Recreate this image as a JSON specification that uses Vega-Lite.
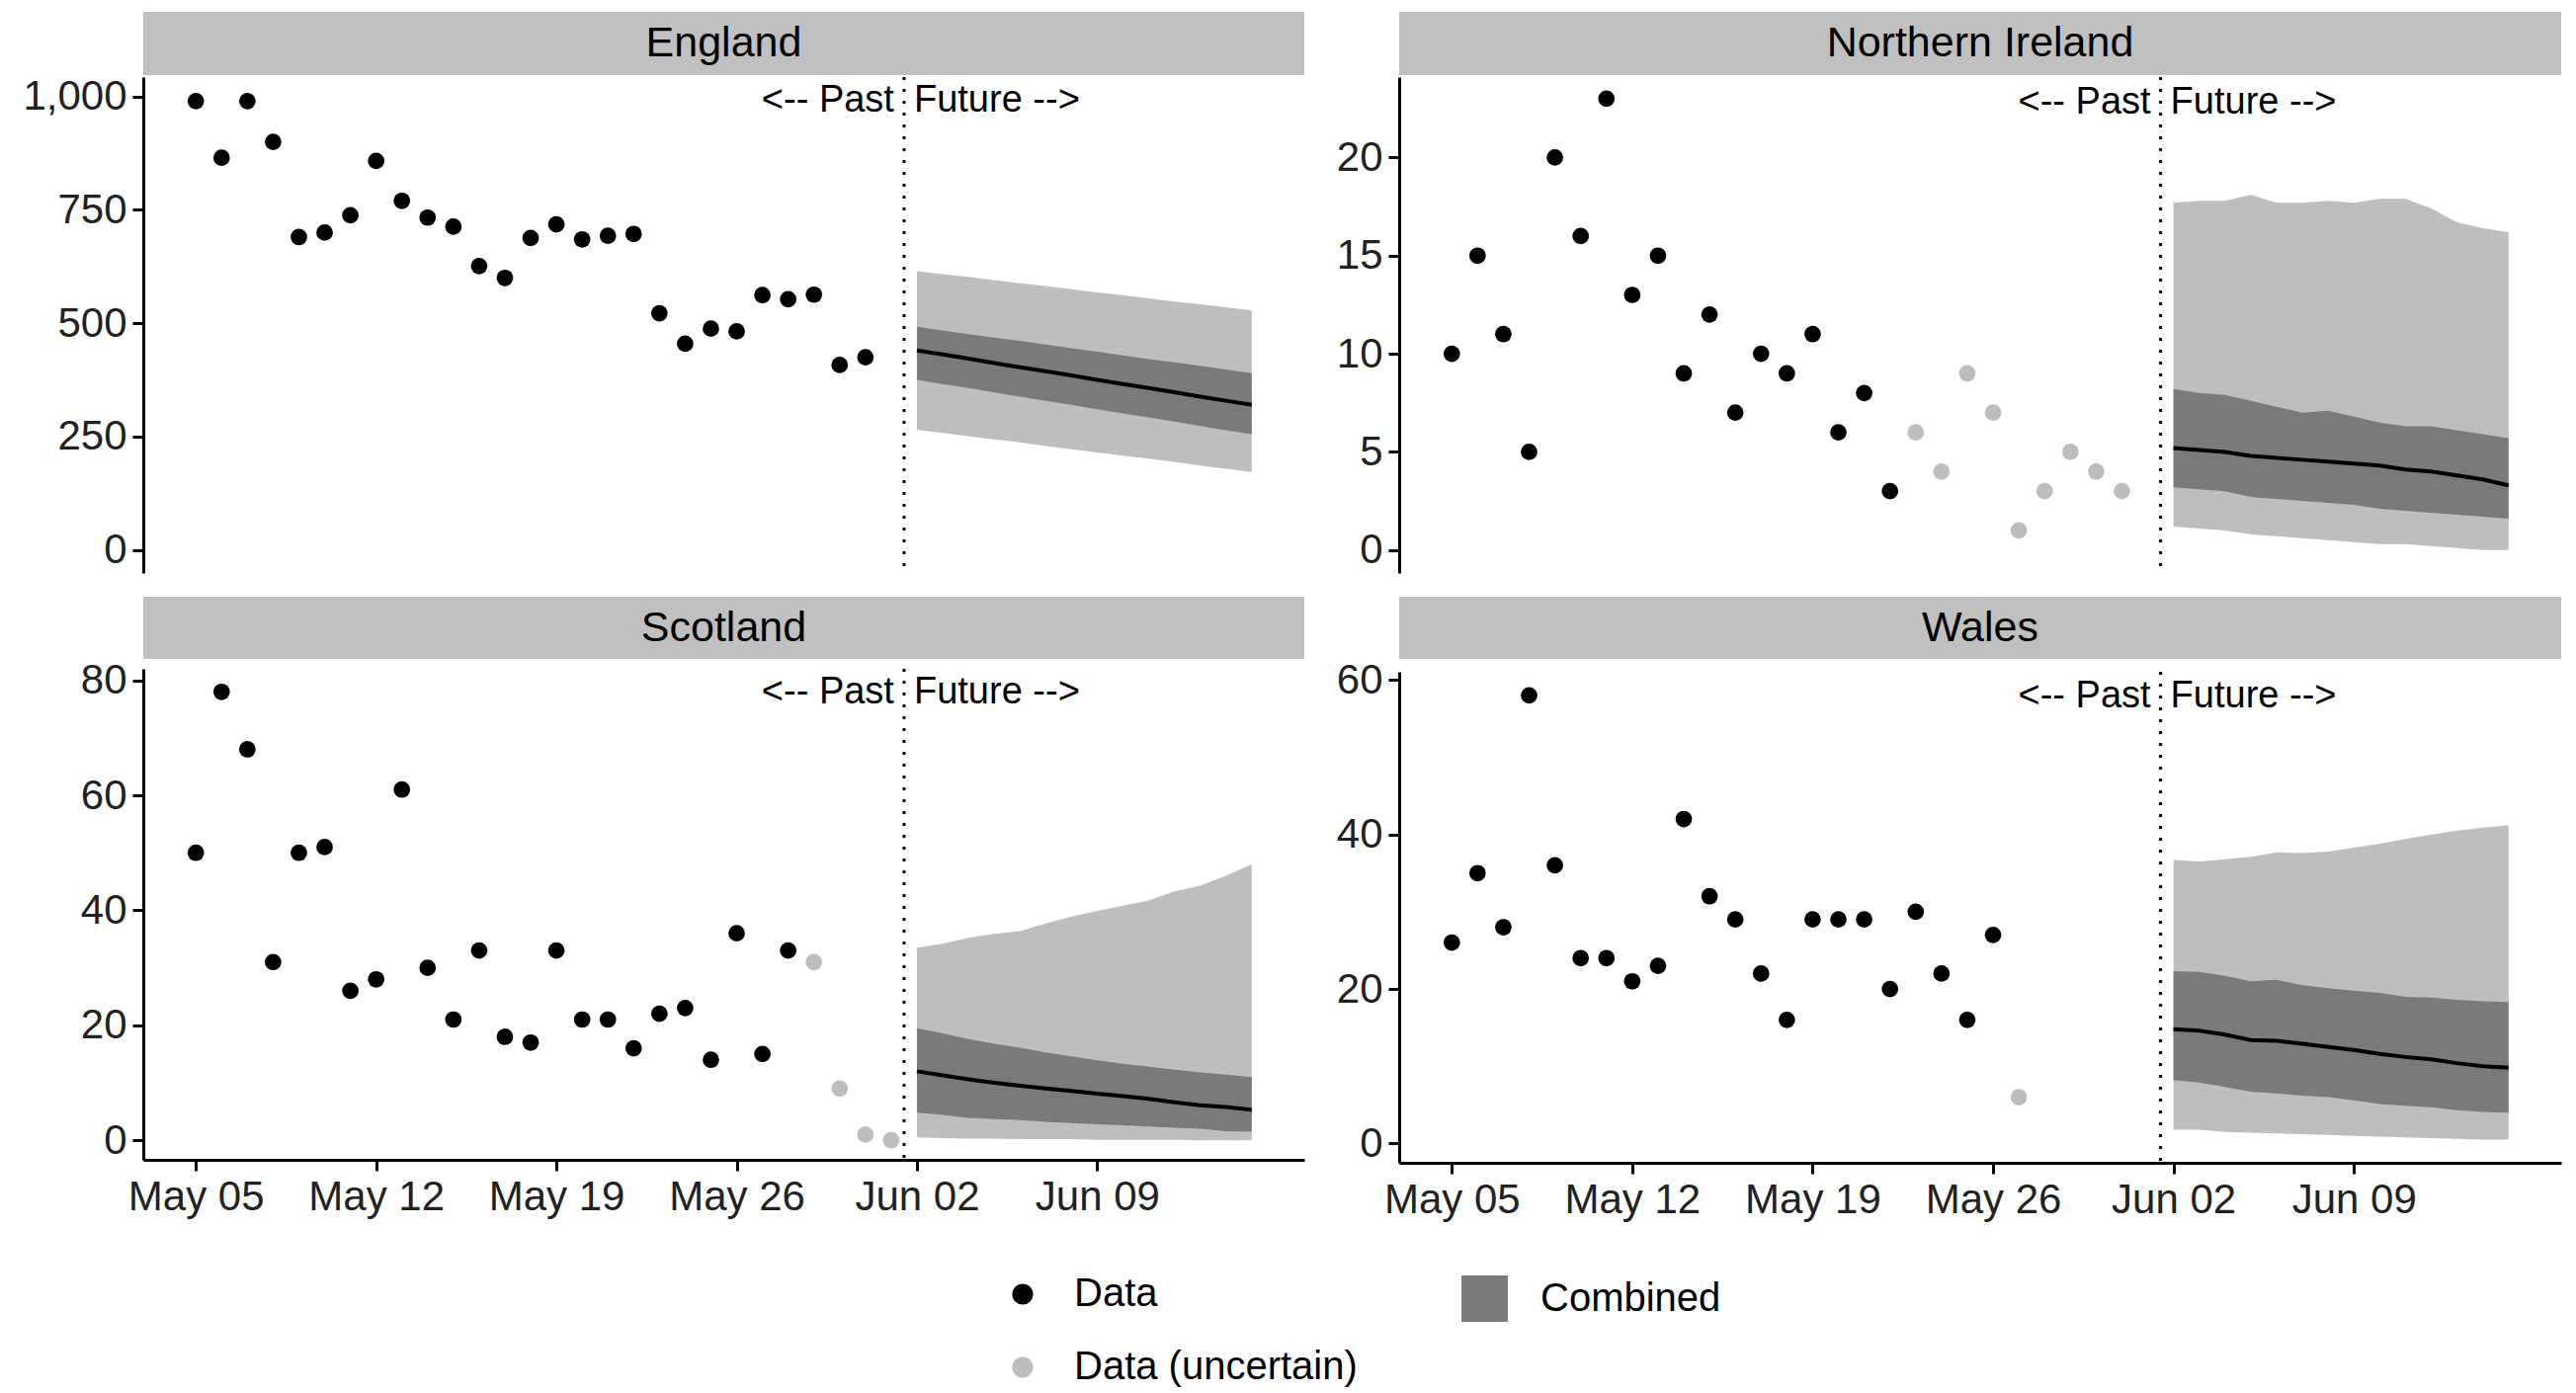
{
  "$schema": "https://vega.github.io/schema/vega-lite/v6.json",
  "padding": {"left": 22, "top": 12, "right": 5, "bottom": 5},
  "background": "white",
  "config": {
    "font": "Liberation Sans",
    "view": {"stroke": null},
    "axis": {"labelFontSize": 42, "labelColor": "#222222", "domainColor": "black", "domainWidth": 3, "tickColor": "black", "tickWidth": 3, "tickSize": 11, "labelPadding": 6, "title": null, "grid": false, "labelFont": "Liberation Sans"},
    "legend": {"orient": "none", "direction": "vertical", "title": null, "labelFontSize": 40, "labelFont": "Liberation Sans", "labelLimit": 0, "symbolSize": 450, "rowPadding": 34, "labelOffset": 32},
    "concat": {"spacing": 22}
  },
  "datasets": {
    "obs": [
      {"region":"England","date":"2020-05-05","value":990,"status":"Data"},
      {"region":"England","date":"2020-05-06","value":865,"status":"Data"},
      {"region":"England","date":"2020-05-07","value":990,"status":"Data"},
      {"region":"England","date":"2020-05-08","value":900,"status":"Data"},
      {"region":"England","date":"2020-05-09","value":690,"status":"Data"},
      {"region":"England","date":"2020-05-10","value":700,"status":"Data"},
      {"region":"England","date":"2020-05-11","value":738,"status":"Data"},
      {"region":"England","date":"2020-05-12","value":858,"status":"Data"},
      {"region":"England","date":"2020-05-13","value":770,"status":"Data"},
      {"region":"England","date":"2020-05-14","value":733,"status":"Data"},
      {"region":"England","date":"2020-05-15","value":713,"status":"Data"},
      {"region":"England","date":"2020-05-16","value":626,"status":"Data"},
      {"region":"England","date":"2020-05-17","value":600,"status":"Data"},
      {"region":"England","date":"2020-05-18","value":688,"status":"Data"},
      {"region":"England","date":"2020-05-19","value":718,"status":"Data"},
      {"region":"England","date":"2020-05-20","value":685,"status":"Data"},
      {"region":"England","date":"2020-05-21","value":693,"status":"Data"},
      {"region":"England","date":"2020-05-22","value":697,"status":"Data"},
      {"region":"England","date":"2020-05-23","value":522,"status":"Data"},
      {"region":"England","date":"2020-05-24","value":455,"status":"Data"},
      {"region":"England","date":"2020-05-25","value":488,"status":"Data"},
      {"region":"England","date":"2020-05-26","value":482,"status":"Data"},
      {"region":"England","date":"2020-05-27","value":562,"status":"Data"},
      {"region":"England","date":"2020-05-28","value":553,"status":"Data"},
      {"region":"England","date":"2020-05-29","value":563,"status":"Data"},
      {"region":"England","date":"2020-05-30","value":408,"status":"Data"},
      {"region":"England","date":"2020-05-31","value":425,"status":"Data"},
      {"region":"Northern Ireland","date":"2020-05-05","value":10,"status":"Data"},
      {"region":"Northern Ireland","date":"2020-05-06","value":15,"status":"Data"},
      {"region":"Northern Ireland","date":"2020-05-07","value":11,"status":"Data"},
      {"region":"Northern Ireland","date":"2020-05-08","value":5,"status":"Data"},
      {"region":"Northern Ireland","date":"2020-05-09","value":20,"status":"Data"},
      {"region":"Northern Ireland","date":"2020-05-10","value":16,"status":"Data"},
      {"region":"Northern Ireland","date":"2020-05-11","value":23,"status":"Data"},
      {"region":"Northern Ireland","date":"2020-05-12","value":13,"status":"Data"},
      {"region":"Northern Ireland","date":"2020-05-13","value":15,"status":"Data"},
      {"region":"Northern Ireland","date":"2020-05-14","value":9,"status":"Data"},
      {"region":"Northern Ireland","date":"2020-05-15","value":12,"status":"Data"},
      {"region":"Northern Ireland","date":"2020-05-16","value":7,"status":"Data"},
      {"region":"Northern Ireland","date":"2020-05-17","value":10,"status":"Data"},
      {"region":"Northern Ireland","date":"2020-05-18","value":9,"status":"Data"},
      {"region":"Northern Ireland","date":"2020-05-19","value":11,"status":"Data"},
      {"region":"Northern Ireland","date":"2020-05-20","value":6,"status":"Data"},
      {"region":"Northern Ireland","date":"2020-05-21","value":8,"status":"Data"},
      {"region":"Northern Ireland","date":"2020-05-22","value":3,"status":"Data"},
      {"region":"Northern Ireland","date":"2020-05-23","value":6,"status":"Data (uncertain)"},
      {"region":"Northern Ireland","date":"2020-05-24","value":4,"status":"Data (uncertain)"},
      {"region":"Northern Ireland","date":"2020-05-25","value":9,"status":"Data (uncertain)"},
      {"region":"Northern Ireland","date":"2020-05-26","value":7,"status":"Data (uncertain)"},
      {"region":"Northern Ireland","date":"2020-05-27","value":1,"status":"Data (uncertain)"},
      {"region":"Northern Ireland","date":"2020-05-28","value":3,"status":"Data (uncertain)"},
      {"region":"Northern Ireland","date":"2020-05-29","value":5,"status":"Data (uncertain)"},
      {"region":"Northern Ireland","date":"2020-05-30","value":4,"status":"Data (uncertain)"},
      {"region":"Northern Ireland","date":"2020-05-31","value":3,"status":"Data (uncertain)"},
      {"region":"Scotland","date":"2020-05-05","value":50,"status":"Data"},
      {"region":"Scotland","date":"2020-05-06","value":78,"status":"Data"},
      {"region":"Scotland","date":"2020-05-07","value":68,"status":"Data"},
      {"region":"Scotland","date":"2020-05-08","value":31,"status":"Data"},
      {"region":"Scotland","date":"2020-05-09","value":50,"status":"Data"},
      {"region":"Scotland","date":"2020-05-10","value":51,"status":"Data"},
      {"region":"Scotland","date":"2020-05-11","value":26,"status":"Data"},
      {"region":"Scotland","date":"2020-05-12","value":28,"status":"Data"},
      {"region":"Scotland","date":"2020-05-13","value":61,"status":"Data"},
      {"region":"Scotland","date":"2020-05-14","value":30,"status":"Data"},
      {"region":"Scotland","date":"2020-05-15","value":21,"status":"Data"},
      {"region":"Scotland","date":"2020-05-16","value":33,"status":"Data"},
      {"region":"Scotland","date":"2020-05-17","value":18,"status":"Data"},
      {"region":"Scotland","date":"2020-05-18","value":17,"status":"Data"},
      {"region":"Scotland","date":"2020-05-19","value":33,"status":"Data"},
      {"region":"Scotland","date":"2020-05-20","value":21,"status":"Data"},
      {"region":"Scotland","date":"2020-05-21","value":21,"status":"Data"},
      {"region":"Scotland","date":"2020-05-22","value":16,"status":"Data"},
      {"region":"Scotland","date":"2020-05-23","value":22,"status":"Data"},
      {"region":"Scotland","date":"2020-05-24","value":23,"status":"Data"},
      {"region":"Scotland","date":"2020-05-25","value":14,"status":"Data"},
      {"region":"Scotland","date":"2020-05-26","value":36,"status":"Data"},
      {"region":"Scotland","date":"2020-05-27","value":15,"status":"Data"},
      {"region":"Scotland","date":"2020-05-28","value":33,"status":"Data"},
      {"region":"Scotland","date":"2020-05-29","value":31,"status":"Data (uncertain)"},
      {"region":"Scotland","date":"2020-05-30","value":9,"status":"Data (uncertain)"},
      {"region":"Scotland","date":"2020-05-31","value":1,"status":"Data (uncertain)"},
      {"region":"Scotland","date":"2020-06-01","value":0,"status":"Data (uncertain)"},
      {"region":"Wales","date":"2020-05-05","value":26,"status":"Data"},
      {"region":"Wales","date":"2020-05-06","value":35,"status":"Data"},
      {"region":"Wales","date":"2020-05-07","value":28,"status":"Data"},
      {"region":"Wales","date":"2020-05-08","value":58,"status":"Data"},
      {"region":"Wales","date":"2020-05-09","value":36,"status":"Data"},
      {"region":"Wales","date":"2020-05-10","value":24,"status":"Data"},
      {"region":"Wales","date":"2020-05-11","value":24,"status":"Data"},
      {"region":"Wales","date":"2020-05-12","value":21,"status":"Data"},
      {"region":"Wales","date":"2020-05-13","value":23,"status":"Data"},
      {"region":"Wales","date":"2020-05-14","value":42,"status":"Data"},
      {"region":"Wales","date":"2020-05-15","value":32,"status":"Data"},
      {"region":"Wales","date":"2020-05-16","value":29,"status":"Data"},
      {"region":"Wales","date":"2020-05-17","value":22,"status":"Data"},
      {"region":"Wales","date":"2020-05-18","value":16,"status":"Data"},
      {"region":"Wales","date":"2020-05-19","value":29,"status":"Data"},
      {"region":"Wales","date":"2020-05-20","value":29,"status":"Data"},
      {"region":"Wales","date":"2020-05-21","value":29,"status":"Data"},
      {"region":"Wales","date":"2020-05-22","value":20,"status":"Data"},
      {"region":"Wales","date":"2020-05-23","value":30,"status":"Data"},
      {"region":"Wales","date":"2020-05-24","value":22,"status":"Data"},
      {"region":"Wales","date":"2020-05-25","value":16,"status":"Data"},
      {"region":"Wales","date":"2020-05-26","value":27,"status":"Data"},
      {"region":"Wales","date":"2020-05-27","value":6,"status":"Data (uncertain)"}
    ],
    "proj": [
      {"region":"England","date":"2020-06-02","lo90":265,"lo50":375,"med":440,"hi50":492,"hi90":615},
      {"region":"England","date":"2020-06-03","lo90":258,"lo50":366,"med":431,"hi50":484,"hi90":608},
      {"region":"England","date":"2020-06-04","lo90":251,"lo50":357,"med":422,"hi50":476,"hi90":602},
      {"region":"England","date":"2020-06-05","lo90":244,"lo50":347,"med":412,"hi50":468,"hi90":595},
      {"region":"England","date":"2020-06-06","lo90":237,"lo50":338,"med":403,"hi50":461,"hi90":588},
      {"region":"England","date":"2020-06-07","lo90":229,"lo50":329,"med":394,"hi50":453,"hi90":582},
      {"region":"England","date":"2020-06-08","lo90":222,"lo50":320,"med":385,"hi50":445,"hi90":575},
      {"region":"England","date":"2020-06-09","lo90":215,"lo50":310,"med":375,"hi50":437,"hi90":568},
      {"region":"England","date":"2020-06-10","lo90":208,"lo50":301,"med":366,"hi50":429,"hi90":562},
      {"region":"England","date":"2020-06-11","lo90":201,"lo50":292,"med":357,"hi50":421,"hi90":555},
      {"region":"England","date":"2020-06-12","lo90":194,"lo50":283,"med":348,"hi50":414,"hi90":548},
      {"region":"England","date":"2020-06-13","lo90":186,"lo50":273,"med":338,"hi50":406,"hi90":542},
      {"region":"England","date":"2020-06-14","lo90":179,"lo50":264,"med":329,"hi50":398,"hi90":535},
      {"region":"England","date":"2020-06-15","lo90":172,"lo50":255,"med":320,"hi50":390,"hi90":528},
      {"region":"Northern Ireland","date":"2020-06-02","lo90":1.2,"lo50":3.2,"med":5.2,"hi50":8.2,"hi90":17.7},
      {"region":"Northern Ireland","date":"2020-06-03","lo90":1.1,"lo50":3.1,"med":5.1,"hi50":8.0,"hi90":17.8},
      {"region":"Northern Ireland","date":"2020-06-04","lo90":1.0,"lo50":3.0,"med":5.0,"hi50":7.9,"hi90":17.8},
      {"region":"Northern Ireland","date":"2020-06-05","lo90":0.8,"lo50":2.7,"med":4.8,"hi50":7.6,"hi90":18.1},
      {"region":"Northern Ireland","date":"2020-06-06","lo90":0.7,"lo50":2.6,"med":4.7,"hi50":7.3,"hi90":17.7},
      {"region":"Northern Ireland","date":"2020-06-07","lo90":0.6,"lo50":2.5,"med":4.6,"hi50":7.0,"hi90":17.7},
      {"region":"Northern Ireland","date":"2020-06-08","lo90":0.5,"lo50":2.4,"med":4.5,"hi50":7.1,"hi90":17.8},
      {"region":"Northern Ireland","date":"2020-06-09","lo90":0.4,"lo50":2.3,"med":4.4,"hi50":6.8,"hi90":17.7},
      {"region":"Northern Ireland","date":"2020-06-10","lo90":0.3,"lo50":2.1,"med":4.3,"hi50":6.5,"hi90":17.9},
      {"region":"Northern Ireland","date":"2020-06-11","lo90":0.3,"lo50":2.0,"med":4.1,"hi50":6.3,"hi90":17.9},
      {"region":"Northern Ireland","date":"2020-06-12","lo90":0.2,"lo50":1.9,"med":4.0,"hi50":6.3,"hi90":17.4},
      {"region":"Northern Ireland","date":"2020-06-13","lo90":0.1,"lo50":1.8,"med":3.8,"hi50":6.1,"hi90":16.7},
      {"region":"Northern Ireland","date":"2020-06-14","lo90":0.0,"lo50":1.7,"med":3.6,"hi50":5.9,"hi90":16.4},
      {"region":"Northern Ireland","date":"2020-06-15","lo90":0.0,"lo50":1.6,"med":3.3,"hi50":5.7,"hi90":16.2},
      {"region":"Scotland","date":"2020-06-02","lo90":0.5,"lo50":4.8,"med":12.0,"hi50":19.5,"hi90":33.5},
      {"region":"Scotland","date":"2020-06-03","lo90":0.4,"lo50":4.4,"med":11.3,"hi50":18.6,"hi90":34.2},
      {"region":"Scotland","date":"2020-06-04","lo90":0.3,"lo50":3.9,"med":10.6,"hi50":17.6,"hi90":35.2},
      {"region":"Scotland","date":"2020-06-05","lo90":0.3,"lo50":3.7,"med":10.0,"hi50":16.8,"hi90":35.9},
      {"region":"Scotland","date":"2020-06-06","lo90":0.2,"lo50":3.5,"med":9.5,"hi50":16.1,"hi90":36.4},
      {"region":"Scotland","date":"2020-06-07","lo90":0.2,"lo50":3.2,"med":9.0,"hi50":15.3,"hi90":37.7},
      {"region":"Scotland","date":"2020-06-08","lo90":0.2,"lo50":3.0,"med":8.6,"hi50":14.6,"hi90":38.9},
      {"region":"Scotland","date":"2020-06-09","lo90":0.1,"lo50":2.8,"med":8.1,"hi50":13.9,"hi90":39.9},
      {"region":"Scotland","date":"2020-06-10","lo90":0.1,"lo50":2.6,"med":7.7,"hi50":13.3,"hi90":40.8},
      {"region":"Scotland","date":"2020-06-11","lo90":0.1,"lo50":2.4,"med":7.2,"hi50":12.8,"hi90":41.7},
      {"region":"Scotland","date":"2020-06-12","lo90":0.1,"lo50":2.2,"med":6.6,"hi50":12.3,"hi90":43.3},
      {"region":"Scotland","date":"2020-06-13","lo90":0.0,"lo50":2.0,"med":6.1,"hi50":11.8,"hi90":44.3},
      {"region":"Scotland","date":"2020-06-14","lo90":0.0,"lo50":1.6,"med":5.8,"hi50":11.4,"hi90":46.0},
      {"region":"Scotland","date":"2020-06-15","lo90":0.0,"lo50":1.5,"med":5.3,"hi50":11.0,"hi90":48.0},
      {"region":"Wales","date":"2020-06-02","lo90":1.8,"lo50":8.2,"med":14.8,"hi50":22.3,"hi90":36.7},
      {"region":"Wales","date":"2020-06-03","lo90":1.8,"lo50":7.9,"med":14.6,"hi50":22.2,"hi90":36.5},
      {"region":"Wales","date":"2020-06-04","lo90":1.5,"lo50":7.3,"med":14.1,"hi50":21.7,"hi90":36.8},
      {"region":"Wales","date":"2020-06-05","lo90":1.4,"lo50":6.7,"med":13.4,"hi50":21.0,"hi90":37.1},
      {"region":"Wales","date":"2020-06-06","lo90":1.3,"lo50":6.5,"med":13.3,"hi50":21.2,"hi90":37.7},
      {"region":"Wales","date":"2020-06-07","lo90":1.2,"lo50":6.2,"med":12.9,"hi50":20.5,"hi90":37.6},
      {"region":"Wales","date":"2020-06-08","lo90":1.1,"lo50":6.0,"med":12.5,"hi50":20.1,"hi90":37.8},
      {"region":"Wales","date":"2020-06-09","lo90":1.0,"lo50":5.6,"med":12.1,"hi50":19.8,"hi90":38.3},
      {"region":"Wales","date":"2020-06-10","lo90":0.9,"lo50":5.1,"med":11.6,"hi50":19.5,"hi90":38.8},
      {"region":"Wales","date":"2020-06-11","lo90":0.8,"lo50":4.9,"med":11.2,"hi50":19.0,"hi90":39.4},
      {"region":"Wales","date":"2020-06-12","lo90":0.7,"lo50":4.7,"med":10.9,"hi50":18.9,"hi90":40.0},
      {"region":"Wales","date":"2020-06-13","lo90":0.6,"lo50":4.3,"med":10.4,"hi50":18.6,"hi90":40.5},
      {"region":"Wales","date":"2020-06-14","lo90":0.5,"lo50":4.1,"med":10.0,"hi50":18.4,"hi90":40.9},
      {"region":"Wales","date":"2020-06-15","lo90":0.5,"lo50":4.0,"med":9.8,"hi50":18.3,"hi90":41.2}
    ],
    "split": [{"date": "2020-06-01T12:00:00Z"}]
  },
  "vconcat": [
    {"spacing": 32, "hconcat": [
      {"spacing": 0, "vconcat": [
        {"width": 1175, "height": 64, "view": {"fill": "#c0c0c0", "stroke": null}, "data": {"values": [{"region": "England"}]}, "mark": {"type": "text", "fontSize": 43}, "encoding": {"text": {"field": "region"}}},
        {"width": 1175, "height": 502, "layer": [
          {"data": {"name": "proj"}, "transform": [{"filter": "datum.region == 'England'"}], "mark": {"type": "area", "color": "#bebebe"},
           "encoding": {"x": {"field": "date", "type": "temporal", "scale": {"type": "utc", "domain": [{"year": 2020, "month": 5, "date": 2, "hours": 23, "utc": true}, {"year": 2020, "month": 6, "date": 17, "hours": 1, "utc": true}]}, "axis": null},
             "y": {"field": "lo90", "type": "quantitative", "scale": {"domain": [-51, 1043], "nice": false, "zero": false}, "axis": {"values": [0, 250, 500, 750, 1000], "labelExpr": "format(datum.value, ',')"}}, "y2": {"field": "hi90"}}},
          {"data": {"name": "proj"}, "transform": [{"filter": "datum.region == 'England'"}], "mark": {"type": "area"},
           "encoding": {"x": {"field": "date", "type": "temporal"}, "y": {"field": "lo50", "type": "quantitative"}, "y2": {"field": "hi50"},
             "fill": {"datum": "Combined", "scale": {"domain": ["Combined"], "range": ["#7a7a7a"]}, "legend": {"symbolType": "square", "symbolSize": 2200, "legendX": 1333, "legendY": 1278}}}},
          {"data": {"name": "proj"}, "transform": [{"filter": "datum.region == 'England'"}], "mark": {"type": "line", "color": "black", "strokeWidth": 4},
           "encoding": {"x": {"field": "date", "type": "temporal"}, "y": {"field": "med", "type": "quantitative"}}},
          {"data": {"name": "obs"}, "transform": [{"filter": "datum.region == 'England'"}], "mark": {"type": "circle", "size": 280, "opacity": 1},
           "encoding": {"x": {"field": "date", "type": "temporal"}, "y": {"field": "value", "type": "quantitative"},
             "color": {"field": "status", "type": "nominal", "scale": {"domain": ["Data", "Data (uncertain)"], "range": ["black", "#bdbdbd"]}, "legend": {"legendX": 870, "legendY": 1278}}}},
          {"data": {"name": "split"}, "mark": {"type": "rule", "strokeDash": [3, 9], "strokeWidth": 3, "color": "black"}, "encoding": {"x": {"field": "date", "type": "temporal"}}},
          {"data": {"name": "split"}, "mark": {"type": "text", "align": "right", "dx": -10, "fontSize": 38}, "encoding": {"x": {"field": "date", "type": "temporal"}, "y": {"datum": 990}, "text": {"value": "<-- Past"}}},
          {"data": {"name": "split"}, "mark": {"type": "text", "align": "left", "dx": 10, "fontSize": 38}, "encoding": {"x": {"field": "date", "type": "temporal"}, "y": {"datum": 990}, "text": {"value": "Future -->"}}}
        ]}
      ]},
      {"spacing": 0, "vconcat": [
        {"width": 1176, "height": 64, "view": {"fill": "#c0c0c0", "stroke": null}, "data": {"values": [{"region": "Northern Ireland"}]}, "mark": {"type": "text", "fontSize": 43}, "encoding": {"text": {"field": "region"}}},
        {"width": 1176, "height": 502, "layer": [
          {"data": {"name": "proj"}, "transform": [{"filter": "datum.region == 'Northern Ireland'"}], "mark": {"type": "area", "color": "#bebebe"},
           "encoding": {"x": {"field": "date", "type": "temporal", "scale": {"type": "utc", "domain": [{"year": 2020, "month": 5, "date": 2, "hours": 23, "utc": true}, {"year": 2020, "month": 6, "date": 17, "hours": 1, "utc": true}]}, "axis": null},
             "y": {"field": "lo90", "type": "quantitative", "scale": {"domain": [-1.17, 24.1], "nice": false, "zero": false}, "axis": {"values": [0, 5, 10, 15, 20]}}, "y2": {"field": "hi90"}}},
          {"data": {"name": "proj"}, "transform": [{"filter": "datum.region == 'Northern Ireland'"}], "mark": {"type": "area"},
           "encoding": {"x": {"field": "date", "type": "temporal"}, "y": {"field": "lo50", "type": "quantitative"}, "y2": {"field": "hi50"},
             "fill": {"datum": "Combined", "scale": {"domain": ["Combined"], "range": ["#7a7a7a"]}, "legend": {"symbolType": "square", "symbolSize": 2200, "legendX": 1333, "legendY": 1278}}}},
          {"data": {"name": "proj"}, "transform": [{"filter": "datum.region == 'Northern Ireland'"}], "mark": {"type": "line", "color": "black", "strokeWidth": 4},
           "encoding": {"x": {"field": "date", "type": "temporal"}, "y": {"field": "med", "type": "quantitative"}}},
          {"data": {"name": "obs"}, "transform": [{"filter": "datum.region == 'Northern Ireland'"}], "mark": {"type": "circle", "size": 280, "opacity": 1},
           "encoding": {"x": {"field": "date", "type": "temporal"}, "y": {"field": "value", "type": "quantitative"},
             "color": {"field": "status", "type": "nominal", "scale": {"domain": ["Data", "Data (uncertain)"], "range": ["black", "#bdbdbd"]}, "legend": {"legendX": 870, "legendY": 1278}}}},
          {"data": {"name": "split"}, "mark": {"type": "rule", "strokeDash": [3, 9], "strokeWidth": 3, "color": "black"}, "encoding": {"x": {"field": "date", "type": "temporal"}}},
          {"data": {"name": "split"}, "mark": {"type": "text", "align": "right", "dx": -10, "fontSize": 38}, "encoding": {"x": {"field": "date", "type": "temporal"}, "y": {"datum": 22.8}, "text": {"value": "<-- Past"}}},
          {"data": {"name": "split"}, "mark": {"type": "text", "align": "left", "dx": 10, "fontSize": 38}, "encoding": {"x": {"field": "date", "type": "temporal"}, "y": {"datum": 22.8}, "text": {"value": "Future -->"}}}
        ]}
      ]}
    ]},
    {"spacing": 32, "hconcat": [
      {"spacing": 0, "vconcat": [
        {"width": 1175, "height": 63, "view": {"fill": "#c0c0c0", "stroke": null}, "data": {"values": [{"region": "Scotland"}]}, "mark": {"type": "text", "fontSize": 43}, "encoding": {"text": {"field": "region"}}},
        {"width": 1175, "height": 497, "layer": [
          {"data": {"name": "proj"}, "transform": [{"filter": "datum.region == 'Scotland'"}], "mark": {"type": "area", "color": "#bebebe"},
           "encoding": {"x": {"field": "date", "type": "temporal", "scale": {"type": "utc", "domain": [{"year": 2020, "month": 5, "date": 2, "hours": 23, "utc": true}, {"year": 2020, "month": 6, "date": 17, "hours": 1, "utc": true}]},
               "axis": {"format": "%b %d", "values": [{"year": 2020, "month": 5, "date": 5, "utc": true}, {"year": 2020, "month": 5, "date": 12, "utc": true}, {"year": 2020, "month": 5, "date": 19, "utc": true}, {"year": 2020, "month": 5, "date": 26, "utc": true}, {"year": 2020, "month": 6, "date": 2, "utc": true}, {"year": 2020, "month": 6, "date": 9, "utc": true}]}},
             "y": {"field": "lo90", "type": "quantitative", "scale": {"domain": [-3.4, 82], "nice": false, "zero": false}, "axis": {"values": [0, 20, 40, 60, 80]}}, "y2": {"field": "hi90"}}},
          {"data": {"name": "proj"}, "transform": [{"filter": "datum.region == 'Scotland'"}], "mark": {"type": "area"},
           "encoding": {"x": {"field": "date", "type": "temporal"}, "y": {"field": "lo50", "type": "quantitative"}, "y2": {"field": "hi50"},
             "fill": {"datum": "Combined", "scale": {"domain": ["Combined"], "range": ["#7a7a7a"]}, "legend": {"symbolType": "square", "symbolSize": 2200, "legendX": 1333, "legendY": 1278}}}},
          {"data": {"name": "proj"}, "transform": [{"filter": "datum.region == 'Scotland'"}], "mark": {"type": "line", "color": "black", "strokeWidth": 4},
           "encoding": {"x": {"field": "date", "type": "temporal"}, "y": {"field": "med", "type": "quantitative"}}},
          {"data": {"name": "obs"}, "transform": [{"filter": "datum.region == 'Scotland'"}], "mark": {"type": "circle", "size": 280, "opacity": 1},
           "encoding": {"x": {"field": "date", "type": "temporal"}, "y": {"field": "value", "type": "quantitative"},
             "color": {"field": "status", "type": "nominal", "scale": {"domain": ["Data", "Data (uncertain)"], "range": ["black", "#bdbdbd"]}, "legend": {"legendX": 870, "legendY": 1278}}}},
          {"data": {"name": "split"}, "mark": {"type": "rule", "strokeDash": [3, 9], "strokeWidth": 3, "color": "black"}, "encoding": {"x": {"field": "date", "type": "temporal"}}},
          {"data": {"name": "split"}, "mark": {"type": "text", "align": "right", "dx": -10, "fontSize": 38}, "encoding": {"x": {"field": "date", "type": "temporal"}, "y": {"datum": 77.8}, "text": {"value": "<-- Past"}}},
          {"data": {"name": "split"}, "mark": {"type": "text", "align": "left", "dx": 10, "fontSize": 38}, "encoding": {"x": {"field": "date", "type": "temporal"}, "y": {"datum": 77.8}, "text": {"value": "Future -->"}}}
        ]}
      ]},
      {"spacing": 0, "vconcat": [
        {"width": 1176, "height": 63, "view": {"fill": "#c0c0c0", "stroke": null}, "data": {"values": [{"region": "Wales"}]}, "mark": {"type": "text", "fontSize": 43}, "encoding": {"text": {"field": "region"}}},
        {"width": 1176, "height": 497, "layer": [
          {"data": {"name": "proj"}, "transform": [{"filter": "datum.region == 'Wales'"}], "mark": {"type": "area", "color": "#bebebe"},
           "encoding": {"x": {"field": "date", "type": "temporal", "scale": {"type": "utc", "domain": [{"year": 2020, "month": 5, "date": 2, "hours": 23, "utc": true}, {"year": 2020, "month": 6, "date": 17, "hours": 1, "utc": true}]},
               "axis": {"format": "%b %d", "values": [{"year": 2020, "month": 5, "date": 5, "utc": true}, {"year": 2020, "month": 5, "date": 12, "utc": true}, {"year": 2020, "month": 5, "date": 19, "utc": true}, {"year": 2020, "month": 5, "date": 26, "utc": true}, {"year": 2020, "month": 6, "date": 2, "utc": true}, {"year": 2020, "month": 6, "date": 9, "utc": true}]}},
             "y": {"field": "lo90", "type": "quantitative", "scale": {"domain": [-2.5, 61.06], "nice": false, "zero": false}, "axis": {"values": [0, 20, 40, 60]}}, "y2": {"field": "hi90"}}},
          {"data": {"name": "proj"}, "transform": [{"filter": "datum.region == 'Wales'"}], "mark": {"type": "area"},
           "encoding": {"x": {"field": "date", "type": "temporal"}, "y": {"field": "lo50", "type": "quantitative"}, "y2": {"field": "hi50"},
             "fill": {"datum": "Combined", "scale": {"domain": ["Combined"], "range": ["#7a7a7a"]}, "legend": {"symbolType": "square", "symbolSize": 2200, "legendX": 1333, "legendY": 1278}}}},
          {"data": {"name": "proj"}, "transform": [{"filter": "datum.region == 'Wales'"}], "mark": {"type": "line", "color": "black", "strokeWidth": 4},
           "encoding": {"x": {"field": "date", "type": "temporal"}, "y": {"field": "med", "type": "quantitative"}}},
          {"data": {"name": "obs"}, "transform": [{"filter": "datum.region == 'Wales'"}], "mark": {"type": "circle", "size": 280, "opacity": 1},
           "encoding": {"x": {"field": "date", "type": "temporal"}, "y": {"field": "value", "type": "quantitative"},
             "color": {"field": "status", "type": "nominal", "scale": {"domain": ["Data", "Data (uncertain)"], "range": ["black", "#bdbdbd"]}, "legend": {"legendX": 870, "legendY": 1278}}}},
          {"data": {"name": "split"}, "mark": {"type": "rule", "strokeDash": [3, 9], "strokeWidth": 3, "color": "black"}, "encoding": {"x": {"field": "date", "type": "temporal"}}},
          {"data": {"name": "split"}, "mark": {"type": "text", "align": "right", "dx": -10, "fontSize": 38}, "encoding": {"x": {"field": "date", "type": "temporal"}, "y": {"datum": 57.9}, "text": {"value": "<-- Past"}}},
          {"data": {"name": "split"}, "mark": {"type": "text", "align": "left", "dx": 10, "fontSize": 38}, "encoding": {"x": {"field": "date", "type": "temporal"}, "y": {"datum": 57.9}, "text": {"value": "Future -->"}}}
        ]}
      ]}
    ]}
  ]
}
